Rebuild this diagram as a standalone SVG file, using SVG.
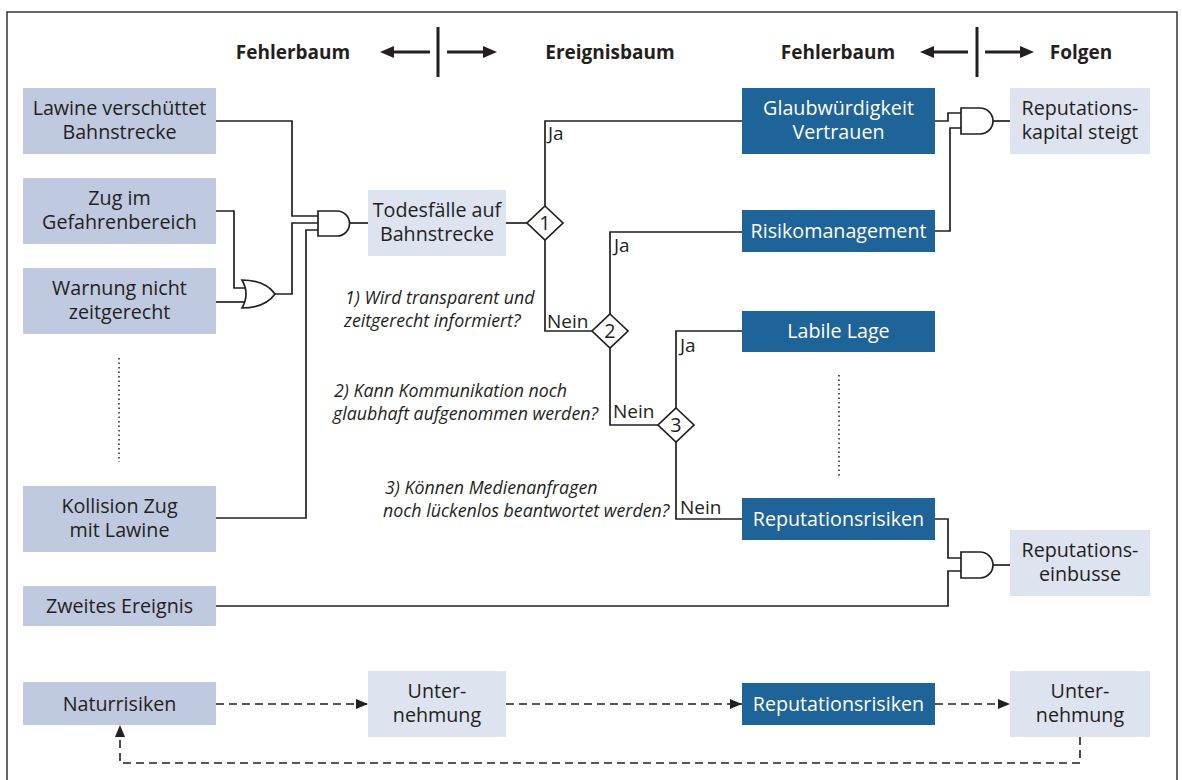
<svg xmlns="http://www.w3.org/2000/svg" width="1182" height="780" viewBox="0 0 1182 780">
<style>
text{font-family:"Open Sans","Noto Sans",sans-serif;fill:#231f20}
.t{font-size:19.7px;text-anchor:middle}
.w{fill:#ffffff}
.h{font-size:19px;font-weight:bold;text-anchor:middle}
.q{font-size:17.8px;font-style:italic}
.l{font-size:19px}
.mid{fill:#bfcae0}
.lt{fill:#dee3f0}
.dk{fill:#1f6498}
.c{fill:none;stroke:#231f20;stroke-width:1.7}
.g{fill:#ffffff;stroke:#231f20;stroke-width:1.7}
.d{fill:none;stroke:#231f20;stroke-width:1.6;stroke-dasharray:8 5}
.dot{fill:none;stroke:#231f20;stroke-width:1.5;stroke-dasharray:1.5 3}
.hb{stroke:#231f20;stroke-width:3}
</style>
<defs>
<marker id="ah" markerWidth="12" markerHeight="10" refX="12" refY="5" orient="auto" markerUnits="userSpaceOnUse">
<path d="M0,0 L12,5 L0,10 Z" fill="#231f20"/>
</marker>
</defs>
<rect x="7" y="12" width="1170" height="790" fill="#ffffff" stroke="#333" stroke-width="1.5"/>

<g id="header">
<text class="h" x="293" y="59">Fehlerbaum</text>
<text class="h" x="610" y="59">Ereignisbaum</text>
<text class="h" x="838" y="59">Fehlerbaum</text>
<text class="h" x="1081" y="59">Folgen</text>
<line class="hb" x1="438" y1="27" x2="438" y2="77"/>
<line class="hb" x1="430" y1="52" x2="392" y2="52"/>
<polygon points="380,52 394,46 394,58" fill="#231f20"/>
<line class="hb" x1="447" y1="52" x2="485" y2="52"/>
<polygon points="497,52 483,46 483,58" fill="#231f20"/>
<line class="hb" x1="977" y1="27" x2="977" y2="77"/>
<line class="hb" x1="968" y1="52" x2="932" y2="52"/>
<polygon points="920,52 934,46 934,58" fill="#231f20"/>
<line class="hb" x1="985" y1="52" x2="1022" y2="52"/>
<polygon points="1034,52 1020,46 1020,58" fill="#231f20"/>
</g>

<g id="connectors">
<path class="c" d="M216,121 H292 V216 H318"/>
<path class="c" d="M275,294 H292 V223 H318"/>
<path class="c" d="M216,518 H306 V230 H318"/>
<path class="c" d="M216,211 H234 V288 H246"/>
<path class="c" d="M216,302 H246"/>
<path class="c" d="M350,223 H368"/>
<path class="c" d="M506,223 H527"/>
<path class="c" d="M545,207 V121 H742"/>
<path class="c" d="M545,240 V331 H592"/>
<path class="c" d="M610,314 V232 H742"/>
<path class="c" d="M610,348 V425 H658"/>
<path class="c" d="M676,408 V331 H742"/>
<path class="c" d="M676,442 V519 H742"/>
<path class="c" d="M935,121 H948 V113 H961"/>
<path class="c" d="M935,231 H950 V128 H961"/>
<path class="c" d="M993,121 H1010"/>
<path class="c" d="M935,519 H948 V558 H961"/>
<path class="c" d="M216,606 H948 V571 H961"/>
<path class="c" d="M993,565 H1010"/>
<path class="dot" d="M119,358 V462"/>
<path class="dot" d="M839,375 V476"/>
<path class="d" d="M216,704 H368" marker-end="url(#ah)"/>
<path class="d" d="M506,704 H742" marker-end="url(#ah)"/>
<path class="d" d="M935,704 H1010" marker-end="url(#ah)"/>
<path class="d" d="M1080,737 V763 H120 V725" marker-end="url(#ah)"/>
</g>

<g id="gates">
<path id="and1" class="g" d="M318,211 H337 A12.5,12.5 0 0 1 337,236 H318 Z"/>
<path id="or1" class="g" d="M242,280 Q250,294 242,308 Q265,308 275,294 Q265,280 242,280 Z"/>
<path id="and2" class="g" d="M961,108 H980 A13,13 0 0 1 980,134 H961 Z"/>
<path id="and3" class="g" d="M961,552 H980 A13,13 0 0 1 980,578 H961 Z"/>
</g>

<g id="n-lawine"><rect class="mid" x="23" y="88" width="193" height="66"/><text class="t" x="119.5" y="115">Lawine verschüttet</text><text class="t" x="119.5" y="139">Bahnstrecke</text></g>
<g id="n-zug"><rect class="mid" x="23" y="178" width="193" height="66"/><text class="t" x="119.5" y="205">Zug im</text><text class="t" x="119.5" y="229">Gefahrenbereich</text></g>
<g id="n-warnung"><rect class="mid" x="23" y="268" width="193" height="66"/><text class="t" x="119.5" y="295">Warnung nicht</text><text class="t" x="119.5" y="319">zeitgerecht</text></g>
<g id="n-kollision"><rect class="mid" x="23" y="486" width="193" height="66"/><text class="t" x="119.5" y="513">Kollision Zug</text><text class="t" x="119.5" y="537">mit Lawine</text></g>
<g id="n-zweites"><rect class="mid" x="23" y="586" width="193" height="40"/><text class="t" x="119.5" y="613">Zweites Ereignis</text></g>
<g id="n-natur"><rect class="mid" x="23" y="682" width="193" height="43"/><text class="t" x="119.5" y="711">Naturrisiken</text></g>

<g id="n-todes"><rect class="lt" x="368" y="190" width="138" height="66"/><text class="t" x="437" y="217">Todesfälle auf</text><text class="t" x="437" y="241">Bahnstrecke</text></g>
<g id="n-unter1"><rect class="lt" x="368" y="671" width="138" height="66"/><text class="t" x="437" y="698">Unter-</text><text class="t" x="437" y="722">nehmung</text></g>

<g id="d1"><polygon class="g" points="545,206 563,223 545,240 527,223"/><text class="t" x="545" y="230">1</text></g>
<g id="d2"><polygon class="g" points="610,314 628,331 610,348 592,331"/><text class="t" x="610" y="338">2</text></g>
<g id="d3"><polygon class="g" points="676,408 694,425 676,442 658,425"/><text class="t" x="676" y="432">3</text></g>

<g id="labels">
<text class="l" x="548" y="140">Ja</text>
<text class="l" x="614" y="252">Ja</text>
<text class="l" x="547" y="328">Nein</text>
<text class="l" x="613" y="418">Nein</text>
<text class="l" x="680" y="352">Ja</text>
<text class="l" x="680" y="514">Nein</text>
</g>

<g id="questions">
<text class="q" x="345" y="304">1) Wird transparent und</text>
<text class="q" x="344" y="327">zeitgerecht informiert?</text>
<text class="q" x="334" y="397">2) Kann Kommunikation noch</text>
<text class="q" x="333" y="420">glaubhaft aufgenommen werden?</text>
<text class="q" x="385" y="494">3) Können Medienanfragen</text>
<text class="q" x="383" y="517">noch lückenlos beantwortet werden?</text>
</g>

<g id="n-glaub"><rect class="dk" x="742" y="88" width="193" height="66"/><text class="t w" x="838.5" y="115">Glaubwürdigkeit</text><text class="t w" x="838.5" y="139">Vertrauen</text></g>
<g id="n-risiko"><rect class="dk" x="742" y="210" width="193" height="42"/><text class="t w" x="838.5" y="238">Risikomanagement</text></g>
<g id="n-labil"><rect class="dk" x="742" y="311" width="193" height="41"/><text class="t w" x="838.5" y="338">Labile Lage</text></g>
<g id="n-reprisk"><rect class="dk" x="742" y="498" width="193" height="42"/><text class="t w" x="838.5" y="526">Reputationsrisiken</text></g>
<g id="n-reprisk2"><rect class="dk" x="742" y="683" width="193" height="42"/><text class="t w" x="838.5" y="711">Reputationsrisiken</text></g>

<g id="n-kapital"><rect class="lt" x="1010" y="88" width="140" height="66"/><text class="t" x="1080" y="115">Reputations-</text><text class="t" x="1080" y="139">kapital steigt</text></g>
<g id="n-einbusse"><rect class="lt" x="1010" y="530" width="140" height="66"/><text class="t" x="1080" y="557">Reputations-</text><text class="t" x="1080" y="581">einbusse</text></g>
<g id="n-unter2"><rect class="lt" x="1010" y="671" width="140" height="66"/><text class="t" x="1080" y="698">Unter-</text><text class="t" x="1080" y="722">nehmung</text></g>
</svg>
